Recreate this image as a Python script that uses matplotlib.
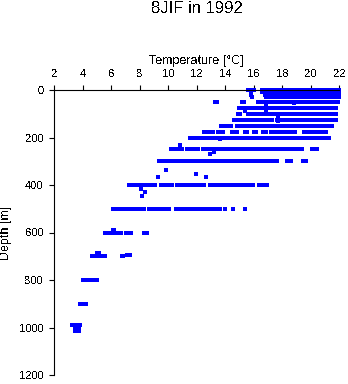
import matplotlib
matplotlib.use("Agg")
import matplotlib.pyplot as plt

# Temperature readings [°C] at each standard depth [m]
t_0 = [15.6, 15.75, 15.9, 16.0, 16.6, 16.8, 17.0, 17.2, 17.4, 17.6, 17.8, 18.0, 18.2, 18.4, 18.6,
       18.8, 19.0, 19.2, 19.4, 19.6, 19.8, 20.0, 20.2, 20.4, 20.6, 20.8, 21.0, 21.2, 21.4, 21.6,
       21.8, 21.97]
t_10 = [15.8, 16.55, 16.75, 16.95, 17.15, 17.35, 17.55, 17.75, 17.95, 18.15, 18.35, 18.55, 18.75,
        18.95, 19.15, 19.35, 19.55, 19.75, 19.95, 20.15, 20.35, 20.55, 20.75, 20.95, 21.15, 21.35,
        21.55, 21.75, 21.95]
t_20 = [15.8, 16.8, 17.0, 17.2, 17.4, 17.6, 17.8, 18.0, 18.2, 18.4, 18.6, 18.8, 19.0, 19.2, 19.4,
        19.6, 19.8, 20.0, 20.2, 20.4, 20.6, 20.8, 21.0, 21.2, 21.4, 21.6, 21.8, 21.97]
t_30 = [15.85, 16.85, 17.05, 17.25, 17.45, 17.65, 17.85, 18.05, 18.25, 18.45, 18.62, 18.9, 19.1,
        19.3, 19.5, 19.7, 19.9, 20.1, 20.3, 20.5, 20.7, 20.9, 21.1, 21.3, 21.5, 21.7, 21.85, 21.97]
t_50 = [13.3, 13.42, 15.2, 15.32, 16.32, 16.5, 16.7, 16.9, 17.1, 17.3, 17.5, 17.7, 17.9, 18.1,
        18.3, 18.5, 18.7, 18.9, 19.1, 19.3, 19.5, 19.7, 19.9, 20.1, 20.3, 20.5, 20.7, 20.9, 21.1,
        21.3, 21.5, 21.7, 21.88]
t_75 = [14.98, 15.12, 15.35, 15.48, 15.7, 15.9, 16.1, 16.23, 16.5, 16.7, 16.9, 17.1, 17.3, 17.5,
        17.7, 17.9, 18.1, 18.3, 18.5, 18.7, 18.9, 19.1, 19.3, 19.5, 19.7, 19.9, 20.1, 20.3, 20.52,
        20.72, 20.9, 21.1, 21.3, 21.5, 21.62, 21.76]
t_100 = [14.9, 15.06, 15.58, 15.72, 16.0, 16.2, 16.4, 16.6, 16.88, 17.07, 17.27, 17.47, 17.67,
         17.87, 18.07, 18.27, 18.47, 18.67, 18.87, 19.07, 19.27, 19.47, 19.67, 19.87, 20.07, 20.27,
         20.47, 20.67, 20.87, 21.07, 21.27, 21.47, 21.62, 21.75]
t_125 = [14.61, 14.8, 15.0, 15.17, 15.33, 15.55, 15.68, 15.85, 16.05, 16.25, 16.45, 16.65, 16.85,
         17.05, 17.28, 17.6, 17.82, 18.07, 18.27, 18.47, 18.65, 18.82, 19.05, 19.25, 19.45, 19.65,
         19.85, 20.05, 20.25, 20.4, 20.65, 20.85, 21.05, 21.25, 21.45, 21.6, 21.75]
t_150 = [13.7, 13.9, 14.1, 14.22, 14.38, 14.85, 15.05, 15.25, 15.45, 15.65, 15.85, 16.08, 16.25,
         16.45, 16.65, 16.85, 17.05, 17.25, 17.45, 17.65, 17.85, 18.05, 18.25, 18.45, 18.65, 18.8,
         18.94, 19.19, 19.39, 19.6, 19.8, 20.0, 20.25, 20.37, 20.57, 20.77, 20.97, 21.17, 21.32,
         21.47]
t_175 = [12.53, 12.72, 12.88, 13.02, 13.16, 13.51, 13.7, 13.86, 14.49, 14.65, 14.84, 15.38, 15.54,
         15.98, 16.14, 16.68, 16.85, 17.2, 17.4, 17.6, 17.8, 18.0, 18.2, 18.42, 18.7, 18.88, 19.52,
         19.72, 19.92, 20.12, 20.32, 20.5, 20.65, 20.8, 21.05]
t_200 = [11.52, 11.7, 11.99, 12.15, 12.3, 12.46, 12.62, 12.85, 13.12, 13.3, 13.5, 13.7, 13.9, 14.1,
         14.26, 14.56, 14.74, 14.9, 15.08, 15.25, 15.4, 15.54, 15.68, 15.88, 16.08, 16.28, 16.48,
         16.68, 16.88, 17.08, 17.28, 17.48, 17.68, 17.88, 18.08, 18.28, 18.48, 18.68, 18.89, 19.05,
         19.25, 19.45, 19.65, 19.85, 20.0, 20.13, 20.3, 20.5, 20.77, 20.88, 21.1, 21.3]
t_250 = [10.2, 10.35, 10.52, 10.65, 10.76, 10.84, 10.98, 11.29, 11.49, 11.69, 11.9, 12.1, 12.42,
         12.55, 12.69, 12.88, 13.02, 13.16, 13.28, 13.48, 13.68, 13.88, 14.05, 14.17, 14.3, 14.45,
         14.68, 14.88, 15.08, 15.28, 15.48, 15.68, 15.88, 16.08, 16.22, 16.37, 16.5, 16.7, 16.9,
         17.1, 17.3, 17.5, 17.7, 17.9, 18.1, 18.35, 18.54, 18.72, 18.94, 19.17, 19.4, 20.1, 20.25,
         20.41]
t_300 = [9.35, 9.52, 9.68, 9.84, 10.0, 10.17, 10.37, 10.57, 10.77, 10.97, 11.17, 11.47, 11.68, 11.8,
         12.0, 12.2, 12.4, 12.58, 12.76, 12.97, 13.15, 13.35, 13.56, 13.76, 13.96, 14.16, 14.36,
         14.55, 14.73, 14.85, 15.05, 15.25, 15.45, 15.66, 15.8, 16.0, 16.2, 16.4, 16.6, 16.8, 17.0,
         17.2, 17.4, 17.6, 18.31, 18.45, 18.59, 19.47, 19.64]
t_400 = [7.26, 7.42, 7.58, 7.73, 7.96, 8.12, 8.3, 8.5, 8.7, 8.88, 9.07, 9.47, 9.65, 9.85, 10.05,
         10.24, 10.63, 10.82, 11.0, 11.17, 11.33, 11.53, 11.73, 11.93, 12.13, 12.33, 12.5, 12.93,
         13.13, 13.33, 13.53, 13.73, 13.9, 14.05, 14.21, 14.41, 14.61, 14.82, 15.03, 15.19, 15.38,
         15.57, 15.75, 15.92, 16.39, 16.5, 16.79, 16.95]
t_500 = [6.14, 6.3, 6.46, 6.62, 6.78, 6.94, 7.1, 7.26, 7.42, 7.58, 7.74, 7.9, 8.06, 8.2, 8.32, 8.65,
         8.82, 9.0, 9.18, 9.36, 9.54, 9.72, 9.9, 10.07, 10.52, 10.7, 10.88, 11.06, 11.24, 11.42,
         11.6, 11.8, 12.04, 12.27, 12.45, 12.62, 12.8, 12.93, 13.12, 13.25, 13.35, 13.5, 13.62,
         13.95, 14.55, 15.35]
t_600 = [5.56, 5.72, 5.88, 6.02, 6.14, 6.26, 6.42, 6.55, 6.68, 7.03, 7.15, 7.28, 7.4, 8.32, 8.48]
t_700 = [4.62, 4.76, 4.9, 5.05, 5.2, 5.35, 5.5, 5.56, 6.73, 6.84]
t_800 = [4.04, 4.18, 4.32, 4.46, 4.6, 4.74, 4.88, 4.98]
t_900 = [3.8, 3.95, 4.1, 4.25]
t_990 = [3.26, 3.4, 3.55, 3.7, 3.8]
t_1000 = [3.45, 3.6, 3.75]
t_1008 = [3.45, 3.6, 3.75]
t_1016 = [3.45, 3.6, 3.75]

# Casts that fell between the standard levels
extra_depth = [55, 65, 88, 90, 112, 132, 208, 230, 262, 269, 338, 352, 368, 368, 418, 428, 446,
               588, 588, 695, 695, 695, 688, 688]
extra_temp = [18.8, 16.85, 16.85, 15.35, 17.72, 17.7, 13.63, 10.83, 13.23, 12.93, 9.82, 11.92,
              9.3, 12.62, 8.08, 8.34, 8.15, 6.1, 6.2, 7.12, 7.22, 7.31, 5.0, 5.15]

levels = [(0, t_0), (10, t_10), (20, t_20), (30, t_30), (50, t_50), (75, t_75), (100, t_100),
          (125, t_125), (150, t_150), (175, t_175), (200, t_200), (250, t_250), (300, t_300),
          (400, t_400), (500, t_500), (600, t_600), (700, t_700), (800, t_800), (900, t_900),
          (990, t_990), (1000, t_1000), (1008, t_1008), (1016, t_1016)]

depth = []
temp = []
for d, ts in levels:
    depth += [d] * len(ts)
    temp += ts
depth += extra_depth
temp += extra_temp

plt.rcParams["font.family"] = ["Liberation Sans", "DejaVu Sans"]
plt.rcParams["text.antialiased"] = False

fig = plt.figure(figsize=(3.48, 3.84), dpi=100)
ax = fig.add_axes([54.3 / 348, 1 - 375 / 384, 285 / 348, 285 / 384])

ax.plot(temp, depth, linestyle="none", marker="s", markersize=2.3, markeredgewidth=0,
        color="#0000ff", antialiased=False, clip_on=False)

ax.set_xlim(2, 22)
ax.set_ylim(1200, 0)
ax.set_xticks(range(2, 23, 2))
ax.set_yticks(range(0, 1201, 200))
ax.xaxis.tick_top()
ax.xaxis.set_label_position("top")
ax.set_xlabel("Temperature [°C]", fontsize=9, labelpad=4)
ax.set_ylabel("Depth [m]", fontsize=9, labelpad=5)
ax.tick_params(labelsize=8, length=3.6, width=0.8, pad=4.2)
ax.spines["right"].set_visible(False)
ax.spines["bottom"].set_visible(False)
for s in ("left", "top"):
    ax.spines[s].set_linewidth(0.8)

fig.suptitle("8JIF in 1992", x=196.5 / 348, y=1 - 1 / 384, va="top", fontsize=12)

fig.savefig("out.png", dpi=100)
